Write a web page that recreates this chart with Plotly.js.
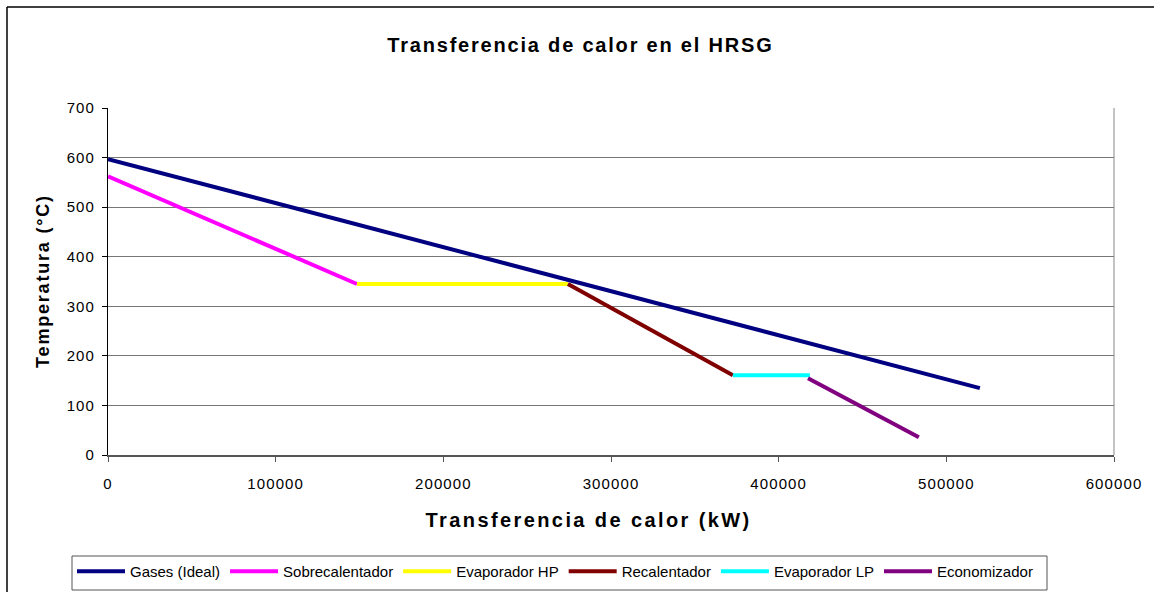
<!DOCTYPE html>
<html>
<head>
<meta charset="utf-8">
<script src="https://cdn.plot.ly/plotly-3.0.1.min.js"></script>
<style>
html,body{margin:0;padding:0;background:#fff;}
#chart{width:1154px;height:592px;}
#chart .xtick text, #chart .ytick text {letter-spacing:1.1px;}
#chart .annotation-text {letter-spacing:1.8px;}
#chart .annotation.xtitle .annotation-text {letter-spacing:2.4px;}
</style>
</head>
<body>
<div id="chart"></div>
<script>
const seriesNames = ["Gases (Ideal)", "Sobrecalentador", "Evaporador HP", "Recalentador", "Evaporador LP", "Economizador"];
const gasesX = [0, 520000];
const gasesY = [597, 135];
const sobreX = [0, 148500];
const sobreY = [562, 345];
const evapHPX = [148500, 274300];
const evapHPY = [345, 345];
const recalX = [274300, 372700];
const recalY = [345, 161];
const evapLPX = [372700, 418600];
const evapLPY = [161, 161];
const econX = [417500, 483600];
const econY = [155, 36];
const xTicks = [0, 100000, 200000, 300000, 400000, 500000, 600000];
const yTicks = [0, 100, 200, 300, 400, 500, 600, 700];
const colors = ["#000080", "#FF00FF", "#FFFF00", "#800000", "#00FFFF", "#800080"];

const xs = [gasesX, sobreX, evapHPX, recalX, evapLPX, econX];
const ys = [gasesY, sobreY, evapHPY, recalY, evapLPY, econY];
const traces = seriesNames.map((n, i) => ({
  x: xs[i], y: ys[i], name: n, mode: "lines", type: "scatter",
  line: {color: colors[i], width: 4}
}));

const font = "Liberation Sans, Arial, sans-serif";
const PH = 347, PW = 1006;
const layout = {
  width: 1154, height: 592,
  margin: {l: 108, r: 40, t: 108, b: 137, autoexpand: false},
  paper_bgcolor: "#fff", plot_bgcolor: "#fff",
  font: {family: font, size: 15, color: "#000"},
  showlegend: true,
  legend: {
    orientation: "h", x: (72 - 108) / PW, y: (455 - 555) / PH, xanchor: "left", yanchor: "top",
    bgcolor: "rgba(0,0,0,0)", borderwidth: 0, font: {family: font, size: 15, color: "#000"},
    itemwidth: 48, tracegroupgap: 0
  },
  xaxis: {
    range: [0, 600000], tickvals: xTicks, ticktext: xTicks.map(String),
    showgrid: false, zeroline: false, showline: true, linecolor: "#555", linewidth: 2,
    ticks: "outside", ticklen: 5, tickcolor: "#555", ticklabelstandoff: 9,
    fixedrange: true
  },
  yaxis: {
    range: [0, 700], tickvals: yTicks, ticktext: yTicks.map(String),
    showgrid: true, gridcolor: "#777", gridwidth: 1, zeroline: false,
    showline: true, linecolor: "#000", linewidth: 1,
    ticks: "outside", ticklen: 5, tickcolor: "#000", ticklabelstandoff: 4,
    fixedrange: true
  },
  shapes: [
    {type: "line", xref: "paper", yref: "paper", x0: 1, x1: 1, y0: 0, y1: 1, line: {color: "#888", width: 1}},
    {type: "line", xref: "paper", yref: "paper", x0: (7 - 108) / PW, x1: 1.05, y0: (455 - 7) / PH, y1: (455 - 7) / PH, line: {color: "#000", width: 1.5}},
    {type: "line", xref: "paper", yref: "paper", x0: (7 - 108) / PW, x1: (7 - 108) / PW, y0: -0.45, y1: (455 - 7) / PH, line: {color: "#000", width: 1.5}},
    {type: "rect", xref: "paper", yref: "paper", x0: (72 - 108) / PW, x1: (1047 - 108) / PW, y0: (455 - 590) / PH, y1: (455 - 556) / PH, line: {color: "#555", width: 1}, fillcolor: "rgba(0,0,0,0)"}
  ],
  annotations: [
    {text: "<b>Transferencia de calor en el HRSG</b>", xref: "paper", yref: "paper",
     x: (580 - 108) / PW, y: (455 - 45) / PH, showarrow: false, xanchor: "center", yanchor: "middle",
     font: {family: font, size: 20, color: "#000"}},
    {text: "<b>Transferencia de calor (kW)</b>", xref: "paper", yref: "paper",
     x: (588 - 108) / PW, y: (455 - 520) / PH, showarrow: false, xanchor: "center", yanchor: "middle",
     font: {family: font, size: 20, color: "#000"}},
    {text: "<b>Temperatura (°C)</b>", xref: "paper", yref: "paper",
     x: (42 - 108) / PW, y: 0.5, showarrow: false, xanchor: "center", yanchor: "middle", textangle: -90,
     font: {family: font, size: 18, color: "#000"}}
  ]
};
Plotly.newPlot("chart", traces, layout, {staticPlot: true, displayModeBar: false}).then(() => {
  const anns = document.querySelectorAll("#chart .annotation");
  if (anns[1]) anns[1].classList.add("xtitle");
});
</script>
</body>
</html>
